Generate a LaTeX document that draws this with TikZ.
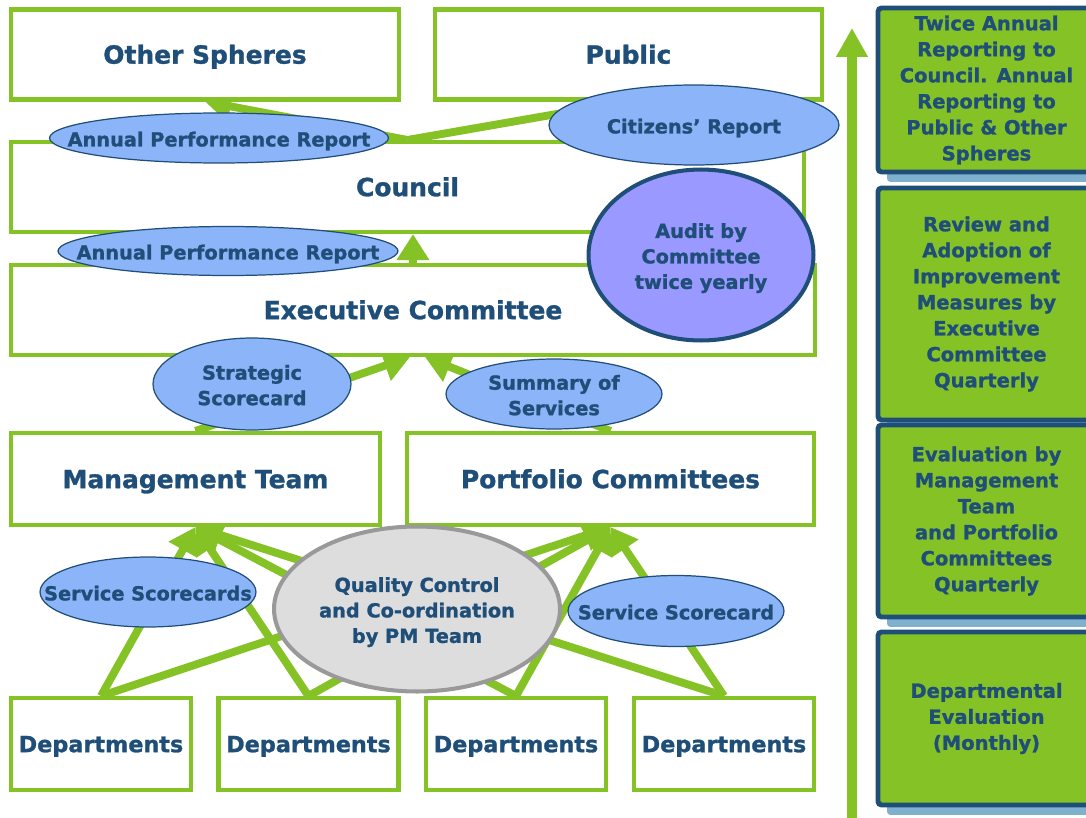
\documentclass[tikz,border=0pt]{standalone}
\usepackage{fontspec}
\setmainfont{DejaVu Sans}[BoldFeatures={FakeBold=1.2}]
\usetikzlibrary{calc, positioning}
\usetikzlibrary{arrows.meta}
\usetikzlibrary{shapes.geometric}
\usetikzlibrary{shadows}

\definecolor{pmgreen}{HTML}{85C226}
\definecolor{pmnavy}{HTML}{1F4E79}
\definecolor{pmblue}{HTML}{8CB4F8}
\definecolor{pmpurple}{HTML}{9999FF}
\definecolor{pmgrey}{HTML}{DDDDDD}
\definecolor{pmgreyline}{HTML}{999999}
\definecolor{pmshadow}{HTML}{7FB1CF}

\pgfdeclarelayer{background}
\pgfsetlayers{background,main}

% text of a bubble, kept from widening the ellipse
\newcommand{\bubtext}[1]{\makebox[0pt]{\smash{\raisebox{-0.42em}{\begin{tabular}{@{}c@{}}#1\end{tabular}}}}}

\tikzset{
  boxnode/.style={rectangle, draw=pmgreen, line width=2.3pt, fill=white, text=pmnavy,
    font=\fontsize{14.2}{17}\selectfont\bfseries, minimum height=1.8cm,
    text height=10.4pt, text depth=0pt},
  deptbox/.style={boxnode, font=\fontsize{12.7}{15}\selectfont\bfseries,
    text height=9.3pt, minimum width=3.6cm, minimum height=1.84cm},
  bubble/.style={ellipse, draw=pmnavy, line width=0.7pt, fill=pmblue, inner sep=0pt,
    text=pmnavy, font=\fontsize{11}{14.5}\selectfont\bfseries},
  auditbubble/.style={bubble, fill=pmpurple, line width=2.3pt},
  qcbubble/.style={bubble, fill=pmgrey, draw=pmgreyline, line width=2.3pt},
  stagebox/.style={rectangle, draw=pmnavy, line width=2.8pt, fill=pmgreen, rounded corners=2pt,
    text=pmnavy, font=\fontsize{11.1}{14.8}\selectfont\bfseries, align=center,
    minimum width=4.34cm,
    drop shadow={shadow xshift=0.18cm, shadow yshift=-0.2cm, fill=pmshadow, opacity=1}},
  flow/.style={pmgreen, line width=4.5pt, -{Triangle[width=0.62cm, length=0.52cm]}},
  timeline/.style={pmgreen, line width=5.7pt, -{Triangle[width=0.6cm, length=0.58cm]}}
}

\begin{document}
\begin{tikzpicture}[x=0.02cm, y=-0.02cm]
\useasboundingbox (0,0) rectangle (1086,818);

% reporting levels
\node[boxnode, minimum width=7.76cm] (others) at (205,54.5) {Other Spheres};
\node[boxnode, minimum width=7.74cm] (public) at (628.5,54.5) {Public};
\node[boxnode, minimum width=15.86cm] (council) at (407.5,187) {Council};
\node[boxnode, minimum width=16.08cm] (exec) at (413,310) {Executive Committee};
\node[boxnode, minimum width=7.38cm, minimum height=1.84cm] (mgmt) at (195.5,479) {Management Team};
\node[boxnode, minimum width=8.14cm, minimum height=1.84cm] (portfolio) at (610.5,479) {Portfolio Committees};
\node[deptbox] (dept1) at (101,744) {Departments};
\node[deptbox] (dept2) at (308.5,744) {Departments};
\node[deptbox] (dept3) at (516,744) {Departments};
\node[deptbox] (dept4) at (724,744) {Departments};

% flows between levels
\begin{pgfonlayer}{background}
\draw[flow] (council.north) -- (others.south);
\draw[flow] (council.north) -- (public.south);
\draw[flow] (exec.north) -- (exec.north |- council.south);
\draw[flow] (mgmt.north) -- ($(exec.south)+(-3,0)$);
\draw[flow] (portfolio.north) -- ($(exec.south)+(12,0)$);
\foreach \d in {dept1,dept2,dept3,dept4} {
  \draw[flow] (\d.north) -- (mgmt.south);
  \draw[flow] (\d.north) -- (portfolio.south);
}
\end{pgfonlayer}

% reports on the flows
\node[bubble, minimum width=6.78cm, minimum height=1cm] (apr1) at (219,138) {\bubtext{Annual Performance Report}};
\node[bubble, minimum width=5.8cm, minimum height=1.6cm] (citizens) at (694,125) {\bubtext{Citizens’ Report}};
\node[bubble, minimum width=6.8cm, minimum height=0.98cm] (apr2) at (228,251) {\bubtext{Annual Performance Report}};
\node[auditbubble, minimum width=4.5cm, minimum height=3.42cm] (audit) at (701,255) {\bubtext{Audit by\\Committee\\twice yearly}};
\node[bubble, minimum width=3.96cm, minimum height=1.84cm] (strategic) at (252,384) {\bubtext{Strategic\\Scorecard}};
\node[bubble, minimum width=4.32cm, minimum height=1.4cm] (summary) at (554,394) {\bubtext{Summary of\\Services}};
\node[bubble, minimum width=4.32cm, minimum height=1.4cm] (svc1) at (148,592) {\bubtext{Service Scorecards}};
\node[qcbubble, minimum width=5.72cm, minimum height=3.3cm] (qc) at (417,609) {\bubtext{Quality Control\\and Co-ordination\\by PM Team}};
\node[bubble, minimum width=4.32cm, minimum height=1.42cm] (svc2) at (676,611) {\bubtext{Service Scorecard}};

% time scale on the right
\coordinate (tlbase) at (852,818);
\coordinate (tltop) at (852,28);
\draw[timeline] (tlbase) -- (tltop);

\node[stagebox, minimum height=3.28cm] (stage1) at (986.5,90) {Twice Annual\\Reporting to\\Council. Annual\\Reporting to\\Public \& Other\\Spheres};
\node[stagebox, minimum height=4.64cm] (stage2) at (986.5,304) {Review and\\Adoption of\\Improvement\\Measures by\\Executive\\Committee\\Quarterly};
\node[stagebox, minimum height=3.84cm] (stage3) at (986.5,521) {Evaluation by\\Management\\Team\\and Portfolio\\Committees\\Quarterly};
\node[stagebox, minimum height=3.46cm] (stage4) at (986.5,718.5) {Departmental\\Evaluation\\(Monthly)};
\end{tikzpicture}
\end{document}
